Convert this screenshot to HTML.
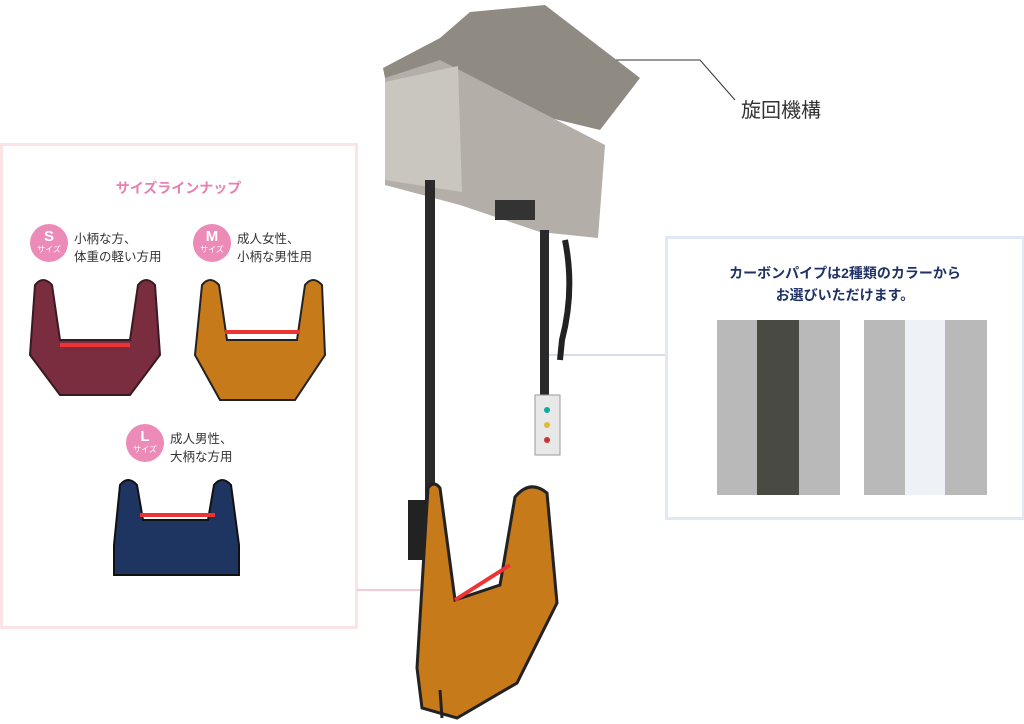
<!DOCTYPE html>
<html><head><meta charset="utf-8"><style>
body{margin:0;width:1024px;height:724px;background:#fff;position:relative;overflow:hidden;font-family:"Liberation Sans","Noto Sans CJK JP",sans-serif}
.abs{position:absolute}
.badge{position:absolute;width:38px;height:38px;border-radius:50%;background:#ec8ab8;color:#fff;text-align:center}
.badge b{display:block;font-size:15px;line-height:17px;margin-top:4px}
.badge i{display:block;font-style:normal;font-size:8px;line-height:9px}
.lbl{position:absolute;font-size:12.5px;line-height:18px;color:#333}
</style></head><body>
<div class="abs" style="left:0;top:143px;width:352px;height:480px;border:3px solid #fbe4e6"></div>
<div class="abs" style="left:0;width:357px;top:178px;text-align:center;color:#e97fb0;font-size:14px;font-weight:bold">サイズラインナップ</div>
<div class="badge" style="left:30px;top:224px"><b>S</b><i>サイズ</i></div>
<div class="lbl" style="left:74px;top:230px">小柄な方、<br>体重の軽い方用</div>
<div class="badge" style="left:193px;top:224px"><b>M</b><i>サイズ</i></div>
<div class="lbl" style="left:237px;top:230px">成人女性、<br>小柄な男性用</div>
<div class="badge" style="left:126px;top:424px"><b>L</b><i>サイズ</i></div>
<div class="lbl" style="left:170px;top:430px">成人男性、<br>大柄な方用</div>
<div class="abs" style="left:665px;top:236px;width:354px;height:278px;border:3px solid #e2e8f3"></div>
<div class="abs" style="left:665px;width:360px;top:262px;text-align:center;color:#1f3266;font-size:14px;font-weight:bold;line-height:22px">カーボンパイプは2種類のカラーから<br>お選びいただけます。</div>
<div class="abs" style="left:741px;top:94px;font-size:20px;color:#333">旋回機構</div>
<svg class="abs" style="left:0;top:0" width="1024" height="724">
<polyline points="595,60 700,60 735,100" fill="none" stroke="#333" stroke-width="1"/>
<line x1="357" y1="590" x2="433" y2="590" stroke="#f6c9d3" stroke-width="2"/><circle cx="433" cy="590" r="4" fill="#fff" stroke="#f6c9d3"/>
<line x1="545" y1="355" x2="665" y2="355" stroke="#d6deeb" stroke-width="2"/><circle cx="545" cy="355" r="4" fill="#fff" stroke="#d6deeb"/>
<rect x="717" y="320" width="123" height="175" fill="#b9b9b9"/><rect x="757" y="320" width="42" height="175" fill="#4a4a45"/>
<rect x="864" y="320" width="123" height="175" fill="#b9b9b9"/><rect x="905" y="320" width="40" height="175" fill="#eef2f6"/>
<!-- lift unit -->
<polygon points="383,68 440,38 470,12 545,5 640,78 600,130 385,78" fill="#8f8a82"/>
<polygon points="385,78 440,60 605,145 598,238 540,232 460,205 385,185" fill="#b3afa8"/>
<polygon points="385,82 458,66 462,192 385,180" fill="#c9c6c0"/>
<rect x="495" y="200" width="40" height="20" fill="#333"/>
<rect x="425" y="180" width="10" height="470" fill="#2a2a2a"/>
<rect x="540" y="230" width="9" height="170" fill="#2a2a2a"/>
<path d="M565 240 q10 50 -3 100 l-2 20" stroke="#222" stroke-width="6" fill="none"/>
<rect x="535" y="395" width="25" height="60" fill="#e8e8e8" stroke="#999"/>
<circle cx="547" cy="410" r="3" fill="#1a9"/><circle cx="547" cy="425" r="3" fill="#db3"/><circle cx="547" cy="440" r="3" fill="#c33"/>
<rect x="408" y="500" width="22" height="60" fill="#222"/>
<path d="M428 488 q6 -8 12 0 l15 112 l45 -15 l15 -88 q15 -18 32 -4 l10 110 l-40 80 l-60 35 l-35 -10 l-5 -40 z" fill="#c77a1a" stroke="#222" stroke-width="3"/>
<line x1="455" y1="600" x2="510" y2="565" stroke="#e33" stroke-width="4"/>
<line x1="440" y1="690" x2="442" y2="718" stroke="#222" stroke-width="3"/>
<!-- slings -->
<path d="M35 285 q8 -10 17 0 l8 55 h70 l8 -55 q8 -10 17 0 l5 70 -30 40 h-70 l-30 -40 z" fill="#7a2d3f" stroke="#3a1a22" stroke-width="2"/>
<line x1="60" y1="345" x2="130" y2="345" stroke="#e33" stroke-width="4"/>
<path d="M202 285 q8 -10 17 0 l8 55 h70 l8 -55 q8 -10 17 0 l3 70 -30 45 h-75 l-25 -45 z" fill="#c77a1a" stroke="#222" stroke-width="2"/>
<line x1="225" y1="332" x2="300" y2="332" stroke="#e33" stroke-width="4"/>
<path d="M120 485 q8 -10 17 0 l6 35 h65 l6 -35 q8 -10 17 0 l8 60 v30 h-125 v-30 z" fill="#1f3561" stroke="#111" stroke-width="2"/>
<line x1="140" y1="515" x2="215" y2="515" stroke="#e33" stroke-width="4"/>
</svg>
</body></html>
